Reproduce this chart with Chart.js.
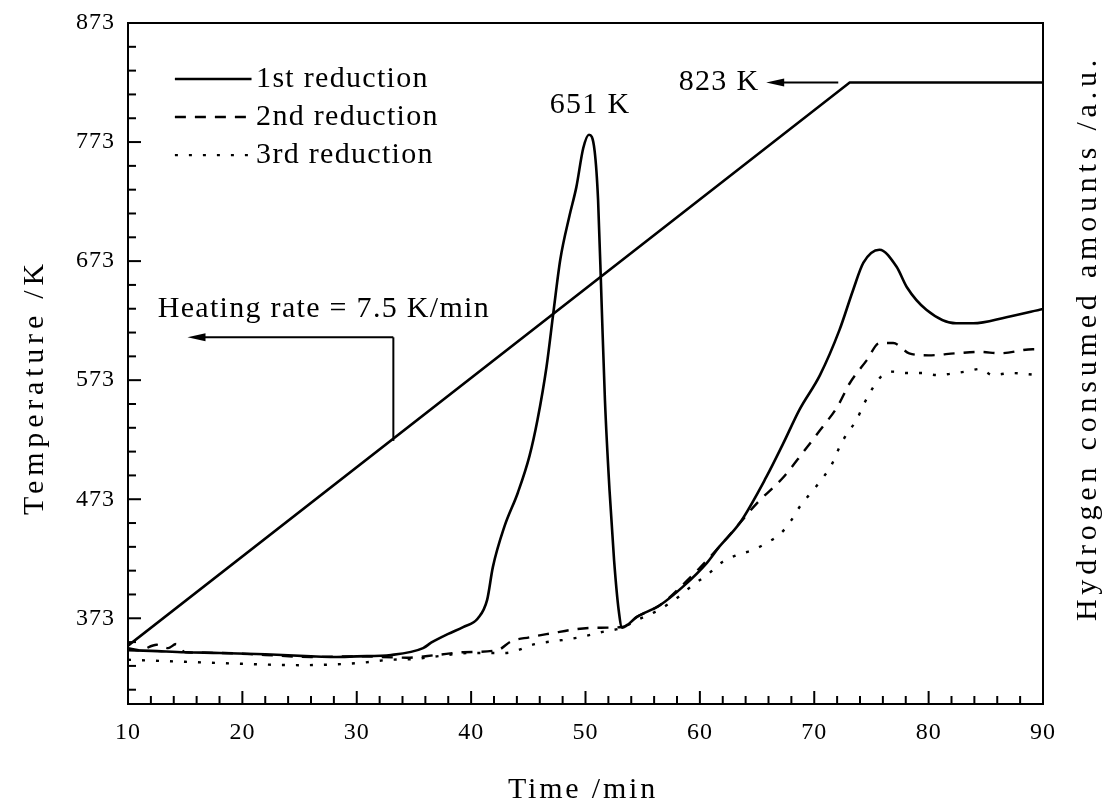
<!DOCTYPE html>
<html>
<head>
<meta charset="utf-8">
<script src="https://cdn.jsdelivr.net/npm/chart.js@4.4.0/dist/chart.umd.min.js"></script>
<style>
  html, body { margin: 0; padding: 0; background: #fff; }
</style>
</head>
<body>
<canvas id="myChart" width="1118" height="812"></canvas>
<script>
// axis ticks
const timeTicks = [10, 20, 30, 40, 50, 60, 70, 80, 90];
const tempTicks = [873, 773, 673, 573, 473, 373];

// temperature program (left axis, K)
const rampTime = [10, 73.1, 90];
const rampTemp = [350, 823, 823];

// hydrogen consumption (right axis, a.u.)
const t1 = [10, 12, 15, 18, 22, 26, 28, 30, 33, 35.8, 36.5, 38, 39.3, 40.6, 41.4, 41.9, 42.9, 44.1, 45.1, 45.8, 46.6, 47.2, 47.8, 48.6, 49.2, 49.8, 50.3, 50.8, 51.1, 51.4, 51.7, 52.1, 52.5, 52.9, 53.2, 54.5, 56.5, 58.5, 60.6, 61.7, 63.5, 65.8, 67.3, 68.7, 70.5, 72.2, 73.4, 74.3, 75.7, 77.2, 78.1, 79.8, 82.4, 83.9, 86.8, 90];
const h1 = [7.9, 7.8, 7.6, 7.5, 7.3, 7.0, 6.9, 7.0, 7.2, 8.2, 9.0, 10.3, 11.3, 12.6, 15.3, 20.1, 26.0, 31.1, 36.4, 41.7, 49.6, 57.6, 65.3, 71.7, 75.9, 81.6, 83.6, 81.2, 74.0, 59.3, 44.6, 31.4, 21.1, 13.8, 11.2, 12.8, 14.5, 17.2, 20.7, 23.1, 26.6, 33.3, 38.3, 43.2, 48.3, 54.9, 60.8, 64.8, 66.7, 64.2, 61.2, 57.9, 55.9, 55.9, 56.8, 58.0];

const t2 = [10, 11, 12.5, 13.5, 14.2, 15, 18, 22, 26, 30, 34.4, 37, 39.3, 42.3, 43.5, 45.1, 47.1, 49.2, 51, 53.2, 54.5, 56.5, 58.5, 60, 61.7, 63.3, 65, 67.3, 69, 70.5, 72, 73.1, 74.6, 75.7, 76.9, 78.3, 80, 82.4, 84.5, 86.2, 89.1, 90];
const h2 = [8.2, 7.9, 8.7, 8.2, 8.8, 7.6, 7.5, 7.2, 6.9, 7.0, 6.8, 7.2, 7.6, 7.9, 9.2, 9.8, 10.4, 11.0, 11.2, 11.3, 12.8, 14.5, 17.5, 20.0, 23.1, 26.2, 29.5, 33.3, 36.9, 40.2, 43.6, 47.1, 50.5, 53.0, 53.0, 51.5, 51.2, 51.5, 51.7, 51.5, 52.1, 52.1];

const t3 = [10, 15, 20, 25, 30, 33, 35, 37, 40, 43, 45.6, 48, 49.5, 51.5, 53.2, 54.5, 56.5, 58.5, 59.4, 60.6, 62, 63.3, 64.6, 66, 67.1, 68, 68.7, 69.9, 70.8, 71.6, 72.2, 72.9, 73.7, 74.3, 74.9, 75.8, 76.9, 78.1, 79.5, 80.7, 82, 83.2, 84.5, 85.6, 87.2, 88.3, 90];
const h3 = [6.5, 6.2, 5.9, 5.7, 6.0, 6.5, 6.6, 7.0, 7.5, 7.5, 8.8, 9.4, 9.8, 10.6, 11.2, 12.3, 13.9, 16.2, 17.5, 18.9, 20.9, 21.9, 22.6, 23.8, 25.1, 27.0, 28.9, 31.4, 33.3, 35.4, 37.7, 39.8, 41.7, 43.9, 45.8, 48.0, 48.8, 48.6, 48.6, 48.3, 48.5, 48.8, 49.2, 48.3, 48.6, 48.5, 48.2];

const seriesNames = ['1st reduction', '2nd reduction', '3rd reduction'];

const serif = "'Liberation Serif', 'DejaVu Serif', serif";
function pts(xs, ys) { return xs.map((v, i) => ({x: v, y: ys[i]})); }

const dashes = [[], [11, 9], [3, 11]];
const hSets = [[t1, h1], [t2, h2], [t3, h3]].map((s, i) => ({
  label: seriesNames[i],
  data: pts(s[0], s[1]),
  yAxisID: 'y2',
  borderColor: '#000',
  borderWidth: i == 0 ? 2.6 : 2.4,
  borderDash: dashes[i],
  pointRadius: 0,
  fill: false,
  cubicInterpolationMode: 'monotone'
}));

function noPad(s) { s.paddingTop = 0; s.paddingBottom = 0; s.paddingLeft = 0; s.paddingRight = 0; }

// draws inward ticks, legend, annotations and axis titles
const overlay = {
  id: 'overlay',
  beforeDraw(chart) { chart.ctx.letterSpacing = '1px'; },
  afterDraw(chart) {
    const ctx = chart.ctx;
    const x = chart.scales.x, y = chart.scales.y;
    const a = chart.chartArea;
    ctx.save();
    ctx.strokeStyle = '#000';
    ctx.fillStyle = '#000';
    ctx.lineWidth = 2;
    ctx.setLineDash([]);
    // inward ticks
    for (let v = 10; v <= 90; v += 2) {
      const px = x.getPixelForValue(v);
      const len = v % 10 == 0 ? 13 : 8;
      ctx.beginPath(); ctx.moveTo(px, a.bottom); ctx.lineTo(px, a.bottom - len); ctx.stroke();
    }
    for (let v = 873; v >= 301; v -= 20) {
      const py = y.getPixelForValue(v);
      const len = (v - 373) % 100 == 0 ? 13 : 8;
      ctx.beginPath(); ctx.moveTo(a.left, py); ctx.lineTo(a.left + len, py); ctx.stroke();
    }

    function arrowLeft(x0, x1, yy) {
      ctx.beginPath(); ctx.moveTo(x0, yy); ctx.lineTo(x1 + 12, yy); ctx.stroke();
      ctx.beginPath(); ctx.moveTo(x1, yy); ctx.lineTo(x1 + 18, yy - 4); ctx.lineTo(x1 + 18, yy + 4); ctx.closePath(); ctx.fill();
    }
    function label(str, px, py, size, spacing, align, rot) {
      ctx.save();
      ctx.font = size + 'px ' + serif;
      ctx.letterSpacing = spacing + 'px';
      ctx.textAlign = align;
      ctx.textBaseline = 'middle';
      ctx.translate(px, py);
      if (rot) ctx.rotate(rot);
      ctx.fillText(str, 0, 0);
      ctx.restore();
    }

    // legend
    const legY = [826, 794, 762];
    chart.data.datasets.slice(1).forEach((ds, i) => {
      const py = y.getPixelForValue(legY[i]);
      ctx.lineWidth = ds.borderWidth;
      ctx.setLineDash(ds.borderDash);
      ctx.beginPath(); ctx.moveTo(x.getPixelForValue(14.1), py); ctx.lineTo(x.getPixelForValue(20.8), py); ctx.stroke();
      ctx.setLineDash([]);
      label(ds.label, x.getPixelForValue(21.2), py, 30, 1.3, 'left');
    });

    ctx.lineWidth = 2;
    // peak label
    label('651 K', x.getPixelForValue(50.4), y.getPixelForValue(804), 30, 1.3, 'center');
    // 823 K arrow
    label('823 K', x.getPixelForValue(65.2), y.getPixelForValue(823), 30, 1.3, 'right');
    arrowLeft(x.getPixelForValue(72.1), x.getPixelForValue(65.8), y.getPixelForValue(823));
    // heating rate bracket
    label('Heating rate = 7.5 K/min', x.getPixelForValue(12.6), y.getPixelForValue(633), 30, 1.3, 'left');
    const bx = x.getPixelForValue(33.2);
    ctx.beginPath(); ctx.moveTo(bx, y.getPixelForValue(522)); ctx.lineTo(bx, y.getPixelForValue(609)); ctx.stroke();
    arrowLeft(bx, x.getPixelForValue(15.2), y.getPixelForValue(609));

    // axis titles
    label('Time /min', 583, 790, 30, 2.8, 'center');
    label('Temperature /K', 35, 387, 30, 4.8, 'center', -Math.PI / 2);
    label('Hydrogen consumed amounts /a.u.', 1088, 338, 30, 4.8, 'center', -Math.PI / 2);
    ctx.restore();
  }
};

const ctx = document.getElementById('myChart').getContext('2d');
const chart = new Chart(ctx, {
  type: 'line',
  data: {
    datasets: [{
      label: 'Temperature',
      data: pts(rampTime, rampTemp),
      yAxisID: 'y',
      borderColor: '#000',
      borderWidth: 2.6,
      pointRadius: 0,
      tension: 0,
      fill: false
    }].concat(hSets)
  },
  options: {
    responsive: false,
    animation: false,
    devicePixelRatio: 1,
    layout: { padding: { top: 23, left: 0, right: 0, bottom: 0 } },
    plugins: { legend: { display: false }, tooltip: { enabled: false } },
    scales: {
      x: {
        type: 'linear', position: 'bottom', min: 10, max: 90,
        afterBuildTicks: s => { s.ticks = timeTicks.map(v => ({value: v})); },
        afterFit: s => { s.height = 108; noPad(s); },
        grid: { display: true, drawOnChartArea: false, drawTicks: false },
        border: { color: '#000', width: 2 },
        ticks: { color: '#000', font: { family: serif, size: 24 }, padding: 14, maxRotation: 0 }
      },
      xTop: {
        type: 'linear', position: 'top', min: 10, max: 90,
        afterFit: s => { s.height = 0; noPad(s); },
        grid: { display: true, drawOnChartArea: false, drawTicks: false },
        border: { color: '#000', width: 2 },
        ticks: { display: false }
      },
      y: {
        type: 'linear', position: 'left', min: 301, max: 873,
        afterBuildTicks: s => { s.ticks = tempTicks.map(v => ({value: v})); },
        afterFit: s => { s.width = 128; noPad(s); },
        grid: { display: true, drawOnChartArea: false, drawTicks: false },
        border: { color: '#000', width: 2 },
        ticks: { color: '#000', font: { family: serif, size: 24 }, padding: 13 }
      },
      y2: {
        type: 'linear', position: 'right', min: 0, max: 100,
        afterFit: s => { s.width = 75; noPad(s); },
        grid: { display: true, drawOnChartArea: false, drawTicks: false },
        border: { color: '#000', width: 2 },
        ticks: { display: false }
      }
    }
  },
  plugins: [overlay]
});
</script>
</body>
</html>
